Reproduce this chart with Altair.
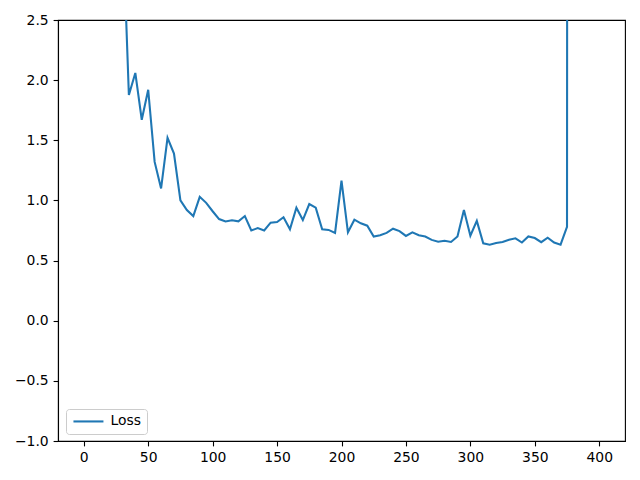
import altair as alt
import pandas as pd

# x positions (steps) and loss values
steps = list(range(0, 405, 5))
loss = [
    8.0, 6.5, 5.2, 4.6, 4.1, 3.7, 3.37,          # 0..30 (above view)
    1.876, 2.06, 1.67, 1.92, 1.32, 1.10, 1.52,   # 35..65
    1.39, 1.00, 0.92, 0.87, 1.03, 0.98, 0.91,    # 70..100
    0.845, 0.825, 0.835, 0.826, 0.87, 0.75, 0.77,  # 105..135
    0.75, 0.815, 0.82, 0.86, 0.76, 0.94, 0.837,  # 140..170
    0.97, 0.94, 0.76, 0.755, 0.73, 1.164, 0.735,  # 175..205
    0.84, 0.81, 0.79, 0.70, 0.71, 0.73, 0.765,   # 210..240
    0.745, 0.705, 0.735, 0.71, 0.70, 0.672, 0.657,  # 245..275
    0.665, 0.655, 0.70, 0.92, 0.707, 0.83, 0.643,  # 280..310
    0.632, 0.646, 0.654, 0.673, 0.685, 0.65, 0.70,  # 315..345
    0.687, 0.653, 0.69, 0.65, 0.632, 0.78,       # 350..375
    100.0, 100.0, 100.0, 100.0, 100.0,           # 380..400 (diverged, above view)
]
series = ["Loss"] * len(steps)

df = pd.DataFrame({"step": steps, "loss": loss, "series": series})

font = "DejaVu Sans"

chart = (
    alt.Chart(df)
    .mark_line(clip=True, strokeWidth=2.08)
    .encode(
        x=alt.X(
            "step:Q",
            scale=alt.Scale(domain=[-20, 420], nice=False, zero=False),
            axis=alt.Axis(values=list(range(0, 401, 50)), title=None, format="d"),
        ),
        y=alt.Y(
            "loss:Q",
            scale=alt.Scale(domain=[-1.0, 2.5], nice=False, zero=False),
            axis=alt.Axis(values=[-1.0, -0.5, 0.0, 0.5, 1.0, 1.5, 2.0, 2.5], format=".1f", title=None),
        ),
        color=alt.Color(
            "series:N",
            scale=alt.Scale(domain=["Loss"], range=["#1f77b4"]),
            legend=alt.Legend(
                title=None,
                orient="none",
                legendX=8,
                legendY=389,
                symbolType="M-1,0H5",
                symbolSize=100,
                symbolStrokeWidth=2.08,
                labelFontSize=13.9,
                labelFont=font,
                labelColor="black",
                labelOffset=25,
                padding=5.5,
                strokeColor="#cccccc",
                fillColor="white",
                cornerRadius=3,
            ),
        ),
    )
    .properties(
        width=567,
        height=421,
        autosize=alt.AutoSizeParams(type="none"),
        padding={"left": 50, "top": 12, "right": 7, "bottom": 30},
    )
    .configure_view(stroke="black", strokeWidth=1.1)
    .configure_axis(
        grid=False,
        domainColor="black",
        domainWidth=1.1,
        tickColor="black",
        tickWidth=1.1,
        tickSize=4.9,
        labelFont=font,
        labelFontSize=13.9,
        labelColor="black",
        labelPadding=4.9,
    )
)

chart.save("out.html", embed_options={"renderer": "svg", "actions": False})
